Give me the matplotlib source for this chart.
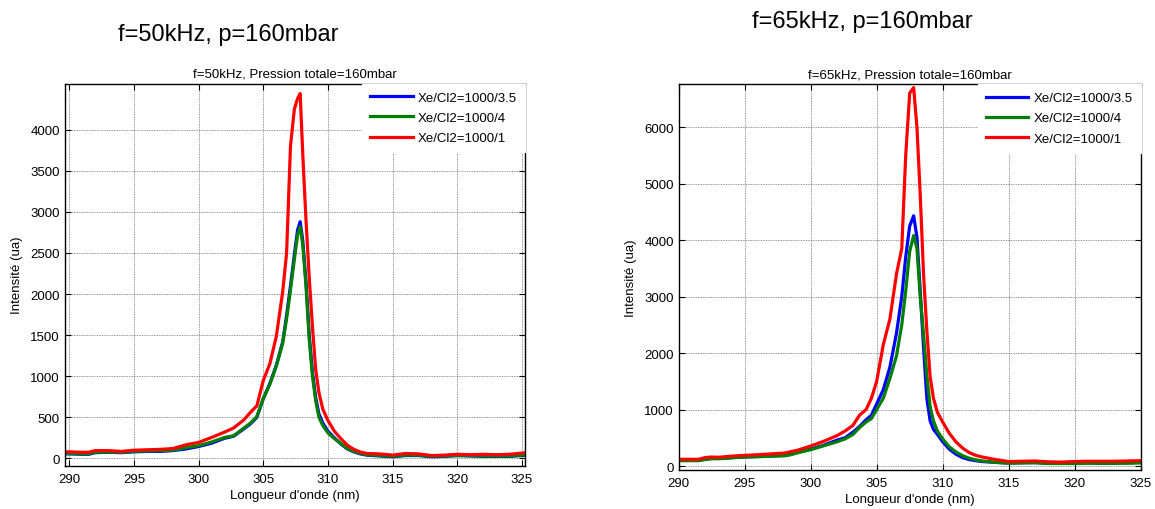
import numpy as np
import matplotlib.pyplot as plt

plt.rcParams['font.family'] = ['Liberation Sans', 'DejaVu Sans']

labels = ['Xe/Cl2=1000/3.5', 'Xe/Cl2=1000/4', 'Xe/Cl2=1000/1']
colors = ['#0000ff', '#007f00', '#ff0000']

# f=50kHz
wl_50 = [289.6, 290, 291, 291.5, 292, 293, 294, 295, 296, 297, 298, 299, 300, 301, 302,
         302.7, 303.5, 304, 304.5, 305, 305.5, 306, 306.5, 306.8, 307.1, 307.4, 307.65,
         307.85, 308.05, 308.3, 308.55, 308.8, 309.05, 309.3, 309.6, 310, 310.5, 311,
         311.5, 312, 312.5, 313, 314, 315, 316, 317, 318, 319, 320, 321, 322, 323, 324,
         325, 325.3]
blue_50 = [55, 55, 50, 50, 70, 75, 70, 80, 85, 85, 95, 115, 145, 185, 245,
           270, 360, 420, 500, 730, 910, 1130, 1420, 1740, 2100, 2480, 2780,
           2880, 2650, 2150, 1500, 1050, 740, 540, 430, 330, 250, 175,
           115, 80, 55, 40, 30, 20, 35, 35, 20, 25, 35, 30, 25, 25, 25,
           35, 40]
green_50 = [60, 60, 55, 55, 75, 78, 75, 85, 90, 95, 100, 130, 155, 200, 255,
            275, 370, 430, 510, 730, 900, 1120, 1400, 1700, 2050, 2420, 2720,
            2820, 2600, 2100, 1450, 1000, 700, 500, 400, 310, 240, 180,
            120, 85, 60, 45, 35, 25, 40, 40, 25, 30, 35, 35, 30, 30, 30,
            40, 45]
red_50 = [80, 80, 75, 75, 95, 95, 85, 100, 105, 110, 120, 165, 195, 255, 320,
          370, 470, 560, 640, 950, 1150, 1480, 2030, 2500, 3800, 4250, 4380,
          4440, 3700, 2900, 2200, 1600, 1080, 800, 600, 460, 330, 240,
          160, 110, 78, 60, 55, 40, 60, 55, 35, 40, 50, 45, 50, 45, 50,
          65, 70]

# f=65kHz
wl_65 = [290, 291, 291.5, 292, 292.5, 293, 293.5, 294, 295, 296, 297, 298, 298.5, 299,
         300, 301, 302, 302.6, 303.2, 303.7, 304.2, 304.6, 305, 305.5, 306, 306.5, 306.9,
         307.2, 307.5, 307.8, 308.05, 308.3, 308.55, 308.8, 309.05, 309.3, 309.6, 310,
         310.5, 311, 311.5, 312, 312.5, 313, 314, 315, 316, 317, 318, 319, 320, 321, 322,
         323, 324, 325]
blue_65 = [110, 105, 105, 120, 135, 135, 140, 150, 160, 170, 180, 190, 210, 240,
           300, 370, 460, 500, 600, 700, 820, 900, 1100, 1350, 1750, 2350, 3000,
           3700, 4250, 4430, 4050, 3100, 2100, 1200, 800, 650, 560, 430,
           300, 210, 150, 115, 95, 80, 65, 55, 60, 62, 50, 50, 55, 60, 55,
           55, 60, 65]
green_65 = [95, 95, 95, 115, 130, 130, 135, 145, 160, 165, 175, 180, 200, 235,
            290, 360, 430, 480, 560, 680, 780, 840, 1000, 1200, 1550, 1950, 2500,
            3100, 3800, 4080, 3850, 3000, 2330, 1600, 1050, 800, 620, 480,
            340, 250, 185, 140, 110, 90, 65, 50, 55, 58, 45, 45, 45, 50, 48,
            48, 50, 55]
red_65 = [120, 120, 120, 150, 160, 155, 165, 175, 190, 200, 215, 230, 255, 280,
          355, 440, 540, 620, 720, 900, 1000, 1200, 1500, 2150, 2600, 3400, 3850,
          5500, 6600, 6700, 6000, 4800, 3400, 2400, 1580, 1200, 950, 780,
          580, 430, 320, 240, 190, 160, 115, 80, 85, 90, 75, 70, 80, 85, 85,
          85, 90, 95]

panels = [
    dict(pos=[0.056, 0.085, 0.3985, 0.749], wl=wl_50, ys=[blue_50, green_50, red_50],
         xlim=(289.64, 325.23), ylim=(-88, 4560), yticks=np.arange(0, 4001, 500),
         title='f=50kHz, Pression totale=160mbar', big='f=50kHz, p=160mbar', bigxy=(228, 35)),
    dict(pos=[0.5876, 0.077, 0.400, 0.756], wl=wl_65, ys=[blue_65, green_65, red_65],
         xlim=(290, 325), ylim=(-65, 6760), yticks=np.arange(0, 6001, 1000),
         title='f=65kHz, Pression totale=160mbar', big='f=65kHz, p=160mbar', bigxy=(862, 22)),
]

fig = plt.figure(figsize=(11.55, 5.1), dpi=100)

for p in panels:
    ax = fig.add_axes(p['pos'])
    for y, c, lab in zip(p['ys'], colors, labels):
        ax.plot(p['wl'], y, color=c, lw=2.3, label=lab)
    ax.set_xlim(p['xlim'])
    ax.set_ylim(p['ylim'])
    ax.set_xticks(np.arange(290, 326, 5))
    ax.set_yticks(p['yticks'])
    ax.grid(True, color='0.45', linestyle=(0, (1, 1)), linewidth=0.6)
    ax.tick_params(direction='in', top=True, right=True, length=4, labelsize=9.5)
    ax.tick_params(axis='x', pad=5)
    for s in ax.spines.values():
        s.set_linewidth(1.0)
    ax.set_title(p['title'], fontsize=9.5, pad=5)
    ax.set_xlabel("Longueur d'onde (nm)", fontsize=9.5, labelpad=3)
    ax.set_ylabel('Intensité (ua)', fontsize=9.5, labelpad=5)
    leg = ax.legend(loc='upper right', fontsize=9.5, frameon=True, fancybox=False,
                    borderaxespad=0, handlelength=3.2, handletextpad=0.4,
                    labelspacing=0.6, borderpad=0.6)
    leg.get_frame().set_edgecolor('white')
    leg.get_frame().set_alpha(1)
    fig.text(p['bigxy'][0] / 1155, 1 - p['bigxy'][1] / 510, p['big'],
             fontsize=17, ha='center', va='center')

fig.savefig('out.png', dpi=100)
